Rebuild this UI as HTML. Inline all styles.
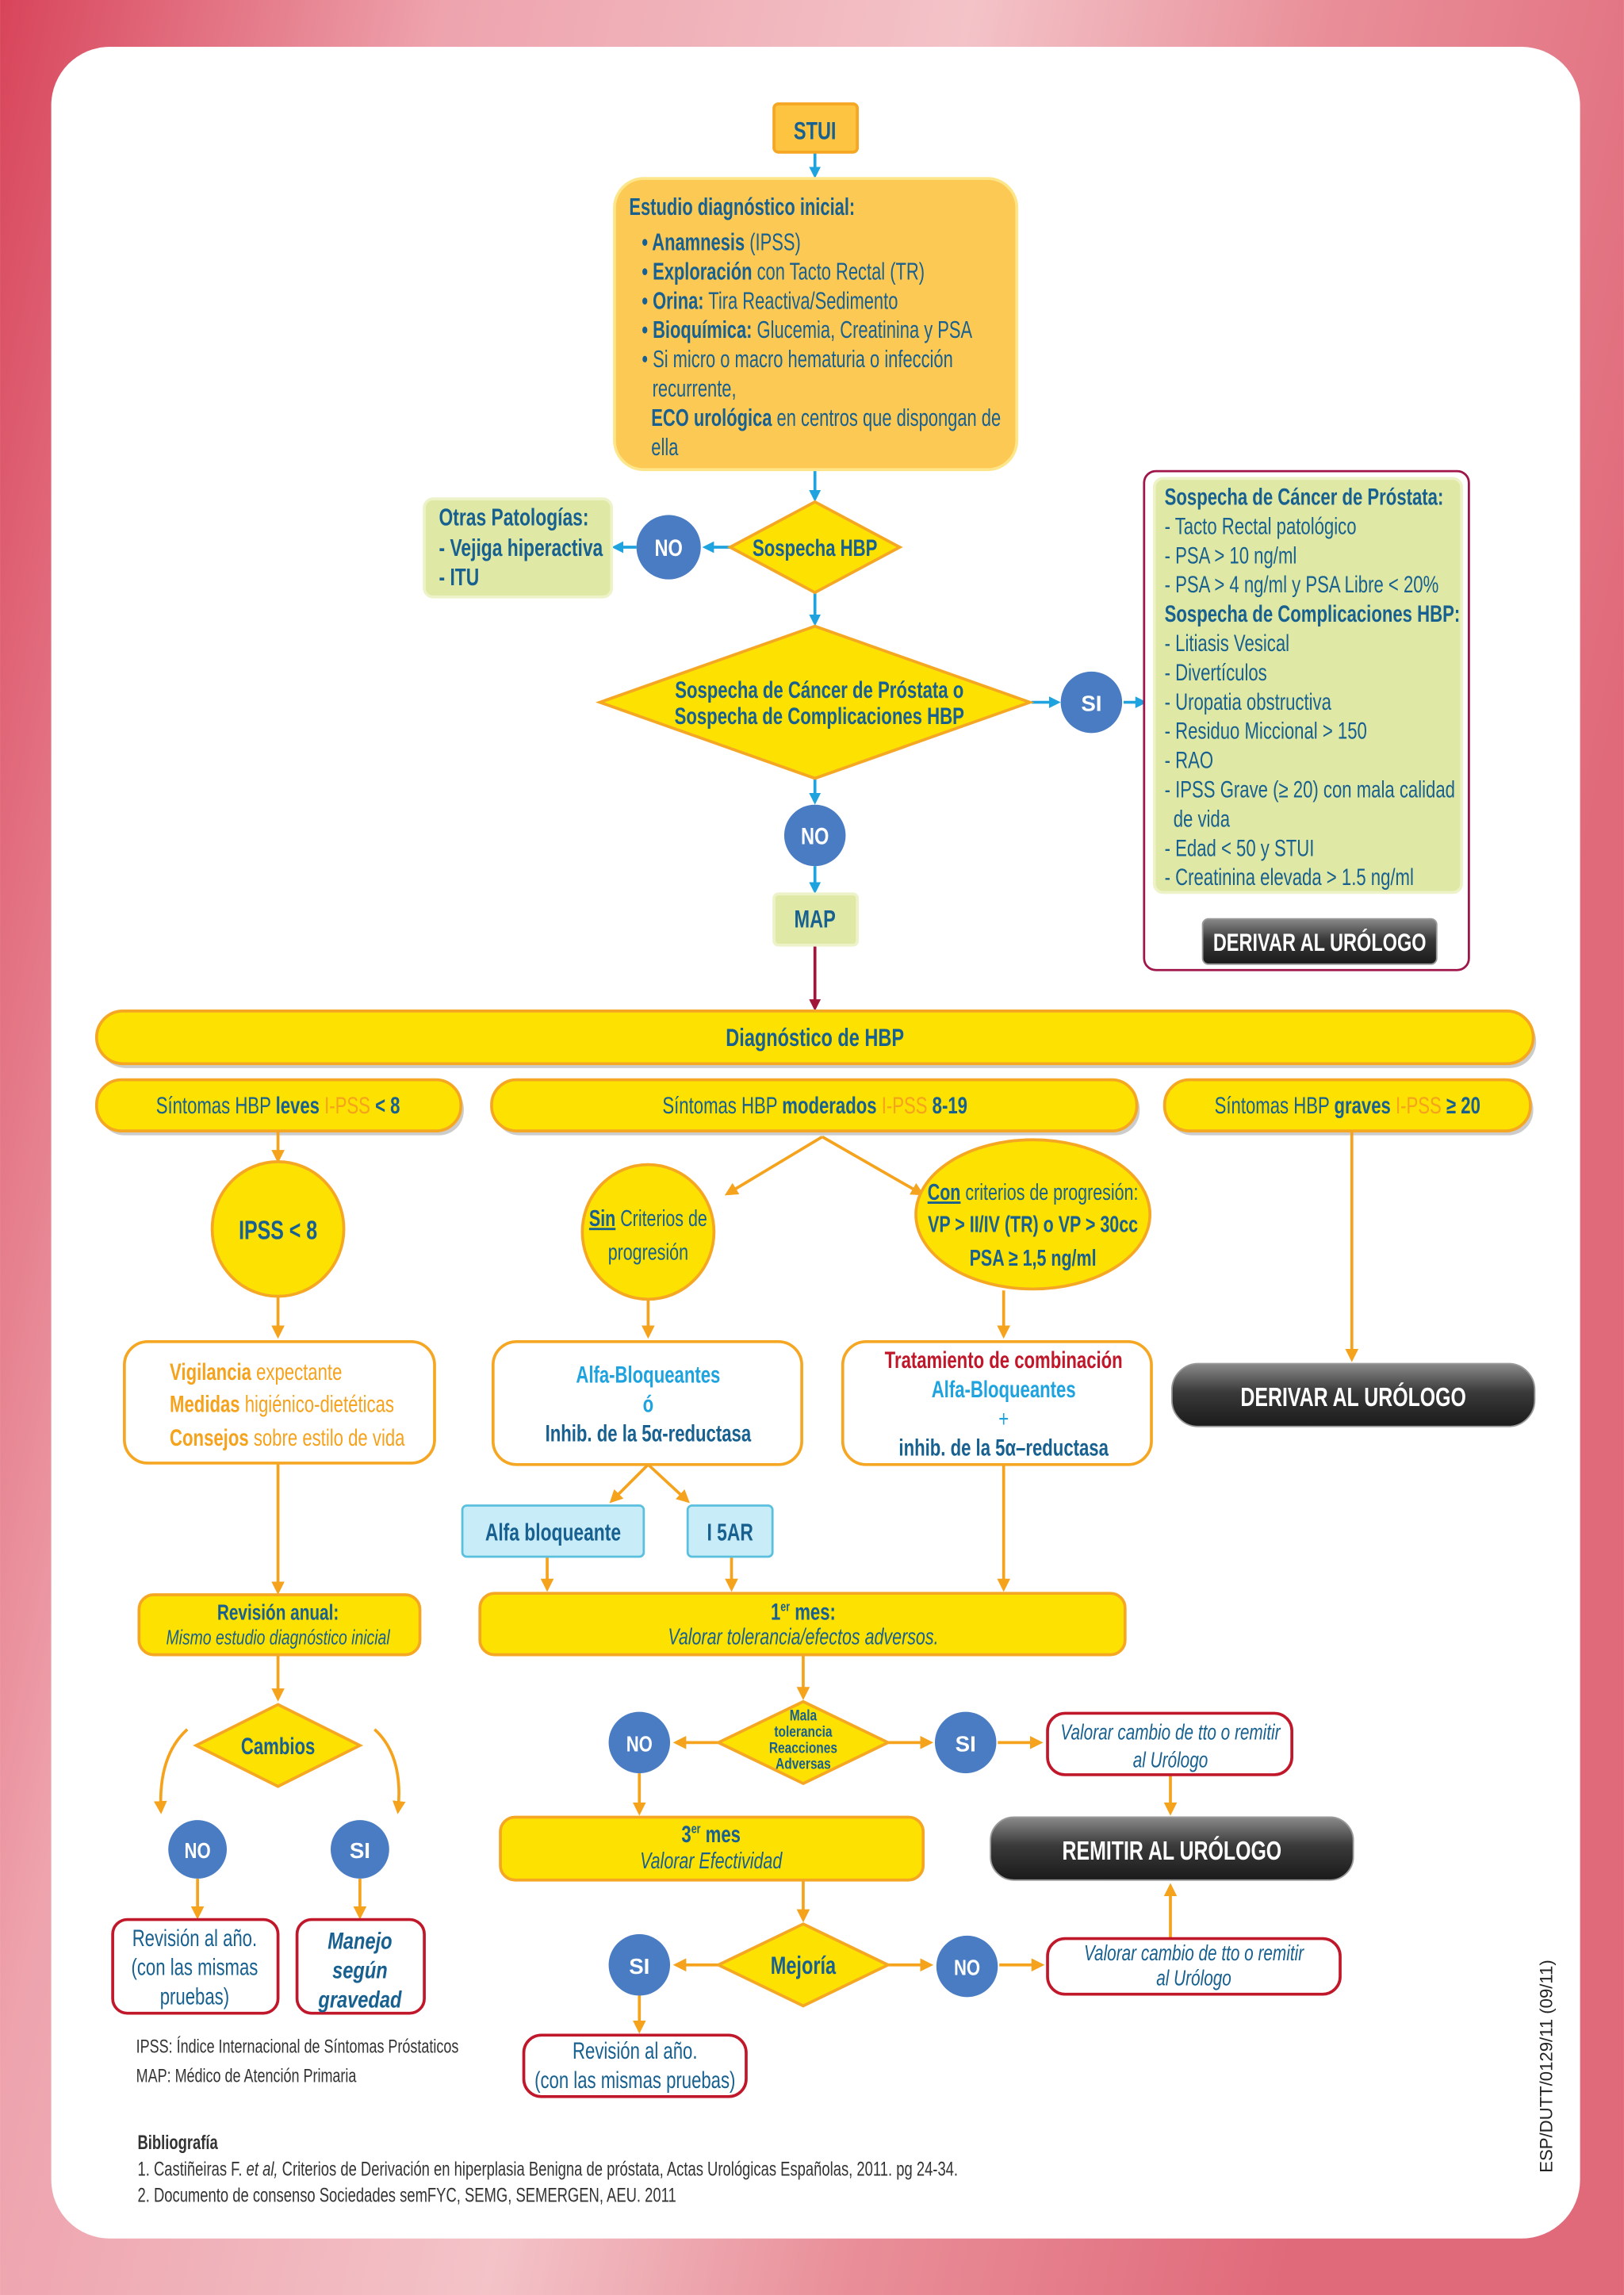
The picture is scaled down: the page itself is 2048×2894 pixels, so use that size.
<!DOCTYPE html>
<html><head><meta charset="utf-8"><style>
html,body{margin:0;padding:0;}
body{width:2048px;height:2894px;overflow:hidden;}
svg{display:block;}
text{font-family:"Liberation Sans Narrow","Liberation Sans",sans-serif;}
.b{fill:#17608f;}
.bd{font-weight:bold;}
.o{fill:#f5a21d;}
.r{fill:#c0182a;}
.lb{fill:#1ea3df;}
.w{fill:#fff;}
</style></head><body>
<svg width="2048" height="2894" viewBox="0 0 1110 1568.6" xmlns="http://www.w3.org/2000/svg">
<defs>
<linearGradient id="bg" x1="0" y1="0" x2="1" y2="0.3">
<stop offset="0" stop-color="#d8445a"/><stop offset="0.25" stop-color="#eea3ad"/><stop offset="0.55" stop-color="#f3c3c8"/><stop offset="0.75" stop-color="#e98f99"/><stop offset="1" stop-color="#e06a7a"/>
</linearGradient>
<linearGradient id="dk" x1="0" y1="0" x2="0" y2="1">
<stop offset="0" stop-color="#8a8a8a"/><stop offset="0.45" stop-color="#3a3a3a"/><stop offset="1" stop-color="#1a1a1a"/>
</linearGradient>
<marker id="ab" markerWidth="8" markerHeight="8" refX="6" refY="4" orient="auto" markerUnits="userSpaceOnUse"><path d="M0,0 L8,4 L0,8 z" fill="#1ea3df"/></marker>
<marker id="ao" markerWidth="9" markerHeight="9" refX="7" refY="4.5" orient="auto" markerUnits="userSpaceOnUse"><path d="M0,0 L9,4.5 L0,9 z" fill="#f5a21d"/></marker>
<marker id="ar" markerWidth="8" markerHeight="8" refX="6" refY="4" orient="auto" markerUnits="userSpaceOnUse"><path d="M0,0 L8,4 L0,8 z" fill="#a0153a"/></marker>
</defs>
<rect x="0" y="0" width="1110" height="1568.6" fill="url(#bg)"/>
<rect x="35" y="32" width="1045" height="1498" rx="40" fill="#fff"/>

<g stroke="#1ea3df" stroke-width="2" fill="none">
<line x1="557" y1="104" x2="557" y2="120" marker-end="url(#ab)"/>
<line x1="557" y1="321" x2="557" y2="341" marker-end="url(#ab)"/>
<line x1="499" y1="374" x2="482" y2="374" marker-end="url(#ab)"/>
<line x1="435" y1="374" x2="420" y2="374" marker-end="url(#ab)"/>
<line x1="557" y1="405" x2="557" y2="426" marker-end="url(#ab)"/>
<line x1="705" y1="480" x2="723" y2="480" marker-end="url(#ab)"/>
<line x1="768" y1="480" x2="782" y2="480" marker-end="url(#ab)"/>
<line x1="557" y1="532" x2="557" y2="548" marker-end="url(#ab)"/>
<line x1="557" y1="592" x2="557" y2="609" marker-end="url(#ab)"/>
<line x1="902" y1="611" x2="902" y2="625" marker-end="url(#ab)"/>
</g>
<line x1="557" y1="646" x2="557" y2="689" stroke="#a0153a" stroke-width="2" marker-end="url(#ar)"/>

<rect x="529" y="71" width="57" height="33" rx="3" fill="#fcc440" stroke="#f5a623" stroke-width="2"/>
<g transform="matrix(0.75,0,0,1,139.25,0)"><text x="557" y="95" text-anchor="middle" font-size="17" class="b bd">STUI</text></g>

<rect x="420" y="122" width="275" height="199" rx="20" fill="#fdc955" stroke="#fde68a" stroke-width="2"/>
<g font-size="16.5" class="b" transform="matrix(0.72,0,0,1,120.4,0)">
<text x="430" y="147" class="bd">Estudio diagnóstico inicial:</text>
<text x="442" y="171"><tspan class="bd">• Anamnesis</tspan> (IPSS)</text>
<text x="442" y="191"><tspan class="bd">• Exploración</tspan> con Tacto Rectal (TR)</text>
<text x="442" y="211"><tspan class="bd">• Orina:</tspan> Tira Reactiva/Sedimento</text>
<text x="442" y="231"><tspan class="bd">• Bioquímica:</tspan> Glucemia, Creatinina y PSA</text>
<text x="442" y="251">• Si micro o macro hematuria o infección</text>
<text x="452" y="271">recurrente,</text>
<text x="451" y="291"><tspan class="bd">ECO urológica</tspan> en centros que dispongan de</text>
<text x="451" y="311">ella</text>
</g>

<polygon points="557,343 615,374 557,405 499,374" fill="#fde100" stroke="#f5a623" stroke-width="2"/>
<g transform="matrix(0.75,0,0,1,139.25,0)"><text x="557" y="380" text-anchor="middle" font-size="16" class="b bd">Sospecha HBP</text></g>
<circle cx="457" cy="374" r="22" fill="#4a7cc4"/>
<g transform="matrix(0.8,0,0,1,91.4,0)"><text x="457" y="380" text-anchor="middle" font-size="16" class="w bd">NO</text></g>
<rect x="290" y="341" width="128" height="67" rx="6" fill="#dfe8a4" stroke="#eef2c8" stroke-width="2"/>
<g font-size="16.5" class="b bd" transform="matrix(0.75,0,0,1,75,0)">
<text x="300" y="359">Otras Patologías:</text>
<text x="300" y="380">- Vejiga hiperactiva</text>
<text x="300" y="400">- ITU</text>
</g>

<polygon points="557,428 704,480 557,532 410,480" fill="#fde100" stroke="#f5a623" stroke-width="2"/>
<g font-size="16" class="b bd" text-anchor="middle" transform="matrix(0.75,0,0,1,140,0)">
<text x="560" y="477">Sospecha de Cáncer de Próstata o</text>
<text x="560" y="495">Sospecha de Complicaciones HBP</text>
</g>
<circle cx="746" cy="480" r="21" fill="#4a7cc4"/>
<text x="746" y="486" text-anchor="middle" font-size="15" class="w bd">SI</text>

<rect x="782" y="322" width="222" height="341" rx="8" fill="#fff" stroke="#a0154a" stroke-width="1.5"/>
<rect x="789" y="327" width="210" height="283" rx="6" fill="#dfe8a4" stroke="#eef2c8" stroke-width="2"/>
<g font-size="16" class="b" transform="matrix(0.75,0,0,1,199,0)">
<text x="796" y="345" class="bd">Sospecha de Cáncer de Próstata:</text>
<text x="796" y="365">- Tacto Rectal patológico</text>
<text x="796" y="385">- PSA &gt; 10 ng/ml</text>
<text x="796" y="405">- PSA &gt; 4 ng/ml y PSA Libre &lt; 20%</text>
<text x="796" y="425" class="bd">Sospecha de Complicaciones HBP:</text>
<text x="796" y="445">- Litiasis Vesical</text>
<text x="796" y="465">- Divertículos</text>
<text x="796" y="485">- Uropatia obstructiva</text>
<text x="796" y="505">- Residuo Miccional &gt; 150</text>
<text x="796" y="525">- RAO</text>
<text x="796" y="545">- IPSS Grave (≥ 20) con mala calidad</text>
<text x="804" y="565">de vida</text>
<text x="796" y="585">- Edad &lt; 50 y STUI</text>
<text x="796" y="605">- Creatinina elevada &gt; 1.5 ng/ml</text>
</g>
<rect x="822" y="628" width="160" height="31" rx="4" fill="url(#dk)" stroke="#999" stroke-width="1"/>
<g transform="matrix(0.75,0,0,1,225.5,0)"><text x="902" y="650" text-anchor="middle" font-size="17" class="w bd">DERIVAR AL URÓLOGO</text></g>

<circle cx="557" cy="571" r="21" fill="#4a7cc4"/>
<g transform="matrix(0.8,0,0,1,111.4,0)"><text x="557" y="577" text-anchor="middle" font-size="16" class="w bd">NO</text></g>
<rect x="529" y="611" width="57" height="35" rx="3" fill="#dfe8a4" stroke="#eef2c8" stroke-width="2"/>
<g transform="matrix(0.75,0,0,1,139.25,0)"><text x="557" y="634" text-anchor="middle" font-size="17" class="b bd">MAP</text></g>

<g fill="#fde100" stroke="#f5a623" stroke-width="2">
<rect x="68" y="694" width="982" height="36" rx="18" fill="#ccc" stroke="none"/>
<rect x="66" y="691" width="982" height="36" rx="18"/>
<rect x="68" y="741" width="249" height="35" rx="17" fill="#ccc" stroke="none"/>
<rect x="66" y="738" width="249" height="35" rx="17"/>
<rect x="338" y="741" width="441" height="35" rx="17" fill="#ccc" stroke="none"/>
<rect x="336" y="738" width="441" height="35" rx="17"/>
<rect x="798" y="741" width="250" height="35" rx="17" fill="#ccc" stroke="none"/>
<rect x="796" y="738" width="250" height="35" rx="17"/>
</g>
<g transform="matrix(0.75,0,0,1,139.25,0)"><text x="557" y="715" text-anchor="middle" font-size="17" class="b bd">Diagnóstico de HBP</text></g>
<g font-size="16" class="b" text-anchor="middle">
<g transform="matrix(0.75,0,0,1,47.5,0)"><text x="190" y="761">Síntomas HBP <tspan class="bd">leves</tspan> <tspan class="o">I-PSS</tspan> <tspan class="bd">&lt; 8</tspan></text></g>
<g transform="matrix(0.75,0,0,1,139.25,0)"><text x="557" y="761">Síntomas HBP <tspan class="bd">moderados</tspan> <tspan class="o">I-PSS</tspan> <tspan class="bd">8-19</tspan></text></g>
<g transform="matrix(0.75,0,0,1,230.25,0)"><text x="921" y="761">Síntomas HBP <tspan class="bd">graves</tspan> <tspan class="o">I-PSS</tspan> <tspan class="bd">≥ 20</tspan></text></g>
</g>

<g stroke="#f5a21d" stroke-width="2" fill="none">
<line x1="190" y1="773" x2="190" y2="793" marker-end="url(#ao)"/>
<line x1="190" y1="886" x2="190" y2="913" marker-end="url(#ao)"/>
<line x1="190" y1="1000" x2="190" y2="1088" marker-end="url(#ao)"/>
<line x1="190" y1="1131" x2="190" y2="1161" marker-end="url(#ao)"/>
<path d="M128,1182 Q108,1200 110,1238" marker-end="url(#ao)"/>
<path d="M256,1182 Q276,1200 272,1238" marker-end="url(#ao)"/>
<line x1="135" y1="1284" x2="135" y2="1310" marker-end="url(#ao)"/>
<line x1="246" y1="1284" x2="246" y2="1310" marker-end="url(#ao)"/>
<line x1="562" y1="777" x2="497" y2="816" marker-end="url(#ao)"/>
<line x1="562" y1="777" x2="630" y2="816" marker-end="url(#ao)"/>
<line x1="443" y1="888" x2="443" y2="913" marker-end="url(#ao)"/>
<line x1="443" y1="1001" x2="418" y2="1026" marker-end="url(#ao)"/>
<line x1="443" y1="1001" x2="470" y2="1026" marker-end="url(#ao)"/>
<line x1="374" y1="1064" x2="374" y2="1086" marker-end="url(#ao)"/>
<line x1="500" y1="1064" x2="500" y2="1086" marker-end="url(#ao)"/>
<line x1="686" y1="882" x2="686" y2="913" marker-end="url(#ao)"/>
<line x1="686" y1="1001" x2="686" y2="1086" marker-end="url(#ao)"/>
<line x1="924" y1="773" x2="924" y2="929" marker-end="url(#ao)"/>
<line x1="549" y1="1131" x2="549" y2="1160" marker-end="url(#ao)"/>
<line x1="491" y1="1191" x2="462" y2="1191" marker-end="url(#ao)"/>
<line x1="607" y1="1191" x2="636" y2="1191" marker-end="url(#ao)"/>
<line x1="682" y1="1191" x2="711" y2="1191" marker-end="url(#ao)"/>
<line x1="437" y1="1212" x2="437" y2="1239" marker-end="url(#ao)"/>
<line x1="800" y1="1213" x2="800" y2="1239" marker-end="url(#ao)"/>
<line x1="549" y1="1285" x2="549" y2="1312" marker-end="url(#ao)"/>
<line x1="491" y1="1343" x2="462" y2="1343" marker-end="url(#ao)"/>
<line x1="607" y1="1343" x2="636" y2="1343" marker-end="url(#ao)"/>
<line x1="683" y1="1343" x2="712" y2="1343" marker-end="url(#ao)"/>
<line x1="800" y1="1325" x2="800" y2="1289" marker-end="url(#ao)"/>
<line x1="437" y1="1364" x2="437" y2="1388" marker-end="url(#ao)"/>
</g>

<ellipse cx="190" cy="840" rx="45" ry="46" fill="#fde100" stroke="#f5a623" stroke-width="2"/>
<g transform="matrix(0.75,0,0,1,47.5,0)"><text x="190" y="847" text-anchor="middle" font-size="18" class="b bd">IPSS &lt; 8</text></g>
<rect x="85" y="917" width="212" height="83" rx="16" fill="#fff" stroke="#f5a623" stroke-width="2"/>
<g font-size="16" class="o" transform="matrix(0.75,0,0,1,29,0)">
<text x="116" y="943"><tspan class="bd">Vigilancia</tspan> expectante</text>
<text x="116" y="965"><tspan class="bd">Medidas</tspan> higiénico-dietéticas</text>
<text x="116" y="988"><tspan class="bd">Consejos</tspan> sobre estilo de vida</text>
</g>
<rect x="95" y="1090" width="192" height="41" rx="10" fill="#fde100" stroke="#f5a623" stroke-width="2"/>
<g transform="matrix(0.75,0,0,1,47.5,0)">
<text x="190" y="1107" text-anchor="middle" font-size="15" class="b bd">Revisión anual:</text>
<text x="190" y="1124" text-anchor="middle" font-size="14" font-style="italic" class="b">Mismo estudio diagnóstico inicial</text>
</g>
<polygon points="190,1165 246,1193 190,1221 134,1193" fill="#fde100" stroke="#f5a623" stroke-width="2"/>
<g transform="matrix(0.75,0,0,1,47.5,0)"><text x="190" y="1199" text-anchor="middle" font-size="16" class="b bd">Cambios</text></g>
<circle cx="135" cy="1264" r="20" fill="#4a7cc4"/>
<g transform="matrix(0.8,0,0,1,27,0)"><text x="135" y="1270" text-anchor="middle" font-size="15" class="w bd">NO</text></g>
<circle cx="246" cy="1264" r="20" fill="#4a7cc4"/>
<text x="246" y="1270" text-anchor="middle" font-size="15" class="w bd">SI</text>
<rect x="77" y="1312" width="113" height="64" rx="10" fill="#fff" stroke="#c0182a" stroke-width="2"/>
<g font-size="16" class="b" text-anchor="middle" transform="matrix(0.75,0,0,1,33.25,0)">
<text x="133" y="1330">Revisión al año.</text>
<text x="133" y="1350">(con las mismas</text>
<text x="133" y="1370">pruebas)</text>
</g>
<rect x="203" y="1312" width="87" height="64" rx="10" fill="#fff" stroke="#c0182a" stroke-width="2"/>
<g font-size="16" class="b bd" font-style="italic" text-anchor="middle" transform="matrix(0.8,0,0,1,49.2,0)">
<text x="246" y="1332">Manejo</text>
<text x="246" y="1352">según</text>
<text x="246" y="1372">gravedad</text>
</g>
<g font-size="13" fill="#333" transform="matrix(0.75,0,0,1,23.25,0)">
<text x="93" y="1403">IPSS: Índice Internacional de Síntomas Próstaticos</text>
<text x="93" y="1423">MAP: Médico de Atención Primaria</text>
</g>

<ellipse cx="443" cy="842" rx="45" ry="46" fill="#fde100" stroke="#f5a623" stroke-width="2"/>
<g font-size="15.5" class="b" text-anchor="middle" transform="matrix(0.75,0,0,1,110.75,0)">
<text x="443" y="838"><tspan class="bd" text-decoration="underline">Sin</tspan> Criterios de</text>
<text x="443" y="861">progresión</text>
</g>
<ellipse cx="706" cy="830" rx="80" ry="51" fill="#fde100" stroke="#f5a623" stroke-width="2"/>
<g font-size="15.5" class="b" text-anchor="middle" transform="matrix(0.75,0,0,1,176.5,0)">
<text x="706" y="820"><tspan class="bd" text-decoration="underline">Con</tspan> criterios de progresión:</text>
<text x="706" y="842" class="bd">VP &gt; II/IV (TR) o VP &gt; 30cc</text>
<text x="706" y="865" class="bd">PSA ≥ 1,5 ng/ml</text>
</g>
<rect x="337" y="917" width="211" height="84" rx="16" fill="#fff" stroke="#f5a623" stroke-width="2"/>
<g font-size="16" class="bd" text-anchor="middle" transform="matrix(0.75,0,0,1,110.75,0)">
<text x="443" y="945" class="lb">Alfa-Bloqueantes</text>
<text x="443" y="965" class="lb">ó</text>
<text x="443" y="985" class="b">Inhib. de la 5α-reductasa</text>
</g>
<rect x="576" y="917" width="211" height="84" rx="16" fill="#fff" stroke="#f5a623" stroke-width="2"/>
<g font-size="16" class="bd" text-anchor="middle" transform="matrix(0.75,0,0,1,171.5,0)">
<text x="686" y="935" class="r">Tratamiento de combinación</text>
<text x="686" y="955" class="lb">Alfa-Bloqueantes</text>
<text x="686" y="975" class="lb" font-weight="normal">+</text>
<text x="686" y="995" class="b">inhib. de la 5α–reductasa</text>
</g>
<rect x="316" y="1029" width="124" height="35" rx="3" fill="#c8ecf8" stroke="#5bc0de" stroke-width="1.5"/>
<g transform="matrix(0.75,0,0,1,94.5,0)"><text x="378" y="1053" text-anchor="middle" font-size="16.5" class="b bd">Alfa bloqueante</text></g>
<rect x="470" y="1029" width="58" height="35" rx="3" fill="#c8ecf8" stroke="#5bc0de" stroke-width="1.5"/>
<g transform="matrix(0.75,0,0,1,124.75,0)"><text x="499" y="1053" text-anchor="middle" font-size="16.5" class="b bd">I 5AR</text></g>

<rect x="801" y="932" width="248" height="43" rx="18" fill="url(#dk)" stroke="#999"/>
<g transform="matrix(0.75,0,0,1,231.25,0)"><text x="925" y="961" text-anchor="middle" font-size="18" class="w bd">DERIVAR AL URÓLOGO</text></g>

<rect x="328" y="1089" width="441" height="42" rx="10" fill="#fde100" stroke="#f5a623" stroke-width="2"/>
<g transform="matrix(0.75,0,0,1,137.25,0)">
<text x="549" y="1107" text-anchor="middle" font-size="16" class="b bd">1<tspan font-size="9" dy="-6">er</tspan><tspan dy="6"> mes:</tspan></text>
<text x="549" y="1124" text-anchor="middle" font-size="15.5" font-style="italic" class="b">Valorar tolerancia/efectos adversos.</text>
</g>

<polygon points="549,1163 607,1191 549,1219 491,1191" fill="#fde100" stroke="#f5a623" stroke-width="2"/>
<g font-size="10.5" class="b bd" text-anchor="middle" transform="matrix(0.8,0,0,1,109.8,0)">
<text x="549" y="1176">Mala</text><text x="549" y="1187">tolerancia</text><text x="549" y="1198">Reacciones</text><text x="549" y="1209">Adversas</text>
</g>
<circle cx="437" cy="1191" r="21" fill="#4a7cc4"/>
<g transform="matrix(0.8,0,0,1,87.4,0)"><text x="437" y="1197" text-anchor="middle" font-size="15" class="w bd">NO</text></g>
<circle cx="660" cy="1191" r="21" fill="#4a7cc4"/>
<text x="660" y="1197" text-anchor="middle" font-size="15" class="w bd">SI</text>
<rect x="716" y="1171" width="167" height="42" rx="12" fill="#fff" stroke="#c0182a" stroke-width="2"/>
<g font-size="15" font-style="italic" class="b" text-anchor="middle" transform="matrix(0.75,0,0,1,200,0)">
<text x="800" y="1189">Valorar cambio de tto o remitir</text>
<text x="800" y="1208">al Urólogo</text>
</g>
<rect x="342" y="1242" width="289" height="43" rx="10" fill="#fde100" stroke="#f5a623" stroke-width="2"/>
<g transform="matrix(0.75,0,0,1,121.5,0)">
<text x="486" y="1259" text-anchor="middle" font-size="16" class="b bd">3<tspan font-size="9" dy="-6">er</tspan><tspan dy="6"> mes</tspan></text>
<text x="486" y="1277" text-anchor="middle" font-size="15.5" font-style="italic" class="b">Valorar Efectividad</text>
</g>
<rect x="677" y="1242" width="248" height="43" rx="16" fill="url(#dk)" stroke="#999"/>
<g transform="matrix(0.75,0,0,1,200.25,0)"><text x="801" y="1271" text-anchor="middle" font-size="18" class="w bd">REMITIR AL URÓLOGO</text></g>

<polygon points="549,1315 607,1343 549,1371 491,1343" fill="#fde100" stroke="#f5a623" stroke-width="2"/>
<g transform="matrix(0.75,0,0,1,137.25,0)"><text x="549" y="1349" text-anchor="middle" font-size="17" class="b bd">Mejoría</text></g>
<circle cx="437" cy="1343" r="21" fill="#4a7cc4"/>
<text x="437" y="1349" text-anchor="middle" font-size="15" class="w bd">SI</text>
<circle cx="661" cy="1344" r="21" fill="#4a7cc4"/>
<g transform="matrix(0.8,0,0,1,132.2,0)"><text x="661" y="1350" text-anchor="middle" font-size="15" class="w bd">NO</text></g>
<rect x="716" y="1325" width="200" height="38" rx="12" fill="#fff" stroke="#c0182a" stroke-width="2"/>
<g font-size="15" font-style="italic" class="b" text-anchor="middle" transform="matrix(0.75,0,0,1,204,0)">
<text x="816" y="1340">Valorar cambio de tto o remitir</text>
<text x="816" y="1357">al Urólogo</text>
</g>
<rect x="358" y="1391" width="152" height="42" rx="12" fill="#fff" stroke="#c0182a" stroke-width="2"/>
<g font-size="16" class="b" text-anchor="middle" transform="matrix(0.75,0,0,1,108.5,0)">
<text x="434" y="1407">Revisión al año.</text>
<text x="434" y="1427">(con las mismas pruebas)</text>
</g>

<g fill="#333" transform="matrix(0.74,0,0,1,24.44,0)">
<text x="94" y="1469" font-size="13.5" font-weight="bold">Bibliografía</text>
<text x="94" y="1487" font-size="13.5">1. Castiñeiras F. <tspan font-style="italic">et al,</tspan> Criterios de Derivación en hiperplasia Benigna de próstata, Actas Urológicas Españolas, 2011. pg 24-34.</text>
<text x="94" y="1505" font-size="13.5">2. Documento de consenso Sociedades semFYC, SEMG, SEMERGEN, AEU. 2011</text>
</g>
<text transform="translate(1061,1485) rotate(-90)" font-size="12" fill="#222" style="font-family:'Liberation Sans',sans-serif">ESP/DUTT/0129/11     (09/11)</text>
</svg>
</body></html>
